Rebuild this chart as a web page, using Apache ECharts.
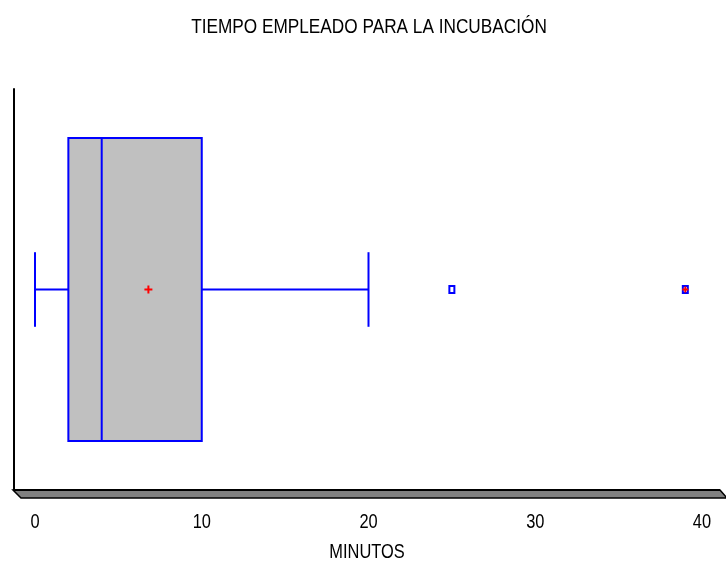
<!DOCTYPE html>
<html>
<head>
<meta charset="utf-8">
<script src="https://cdn.jsdelivr.net/npm/echarts@6/dist/echarts.min.js"></script>
<style>
  html, body { margin: 0; padding: 0; background: #fff; }
  #chart { width: 726px; height: 563px; }
</style>
</head>
<body>
<div id="chart"></div>
<script>
// Five-number summary: lower whisker, Q1, median, Q3, upper whisker (minutes)
var boxStats = [0, 2, 4, 10, 20];
var meanValue = 6.8;
var outliers = [25, 39];
var farOutliers = [39];
var tickValues = [0, 10, 20, 30, 40];
var category = ['MINUTOS'];
var titleText = 'TIEMPO EMPLEADO PARA LA INCUBACIÓN';
var axisTitle = 'MINUTOS';

var FONT = '"Liberation Sans", Arial, sans-serif';
var NARROW = 0.82;   // horizontal squeeze for a condensed look
var BLUE = '#0000ff';

var chart = echarts.init(document.getElementById('chart'));

function plus(cx, cy, r, color) {
  return {
    type: 'group',
    children: [
      { type: 'line', shape: { x1: cx - r, y1: cy, x2: cx + r, y2: cy }, style: { stroke: color, lineWidth: 2 } },
      { type: 'line', shape: { x1: cx, y1: cy - r, x2: cx, y2: cy + r }, style: { stroke: color, lineWidth: 2 } }
    ]
  };
}

function narrowText(str, x, y, size) {
  return {
    type: 'text',
    x: x, y: y,
    scaleX: NARROW,
    style: {
      text: str,
      fill: '#000',
      font: size + 'px ' + FONT,
      align: 'center',
      verticalAlign: 'middle'
    }
  };
}

function renderBox(params, api) {
  var cs = params.coordSys;
  var band = api.size([0, 1])[1];
  var cy = api.coord([0, 0])[1];
  var boxHalf = band * 0.378;
  var capHalf = band * 0.093;
  var px = boxStats.map(function (v) { return api.coord([v, 0])[0]; });
  var children = [];

  // shaded floor under the plot area
  var fy = cs.y + cs.height;
  children.push({
    type: 'polygon',
    shape: { points: [[cs.x - 1, fy], [cs.x + cs.width, fy], [cs.x + cs.width + 7, fy + 8], [cs.x + 7, fy + 8]] },
    style: { fill: '#808080', stroke: '#000', lineWidth: 1.5 }
  });
  children.push({
    type: 'line',
    shape: { x1: cs.x - 1, y1: fy, x2: cs.x + cs.width, y2: fy },
    style: { stroke: '#000', lineWidth: 2 }
  });

  // tick labels along the floor
  tickValues.forEach(function (v) {
    children.push(narrowText(String(v), api.coord([v, 0])[0], fy + 32, 20));
  });
  // axis title
  children.push(narrowText(axisTitle, cs.x + cs.width / 2, fy + 62, 20));

  // whiskers
  children.push({ type: 'line', shape: { x1: px[0], y1: cy, x2: px[1], y2: cy }, style: { stroke: BLUE, lineWidth: 2 } });
  children.push({ type: 'line', shape: { x1: px[3], y1: cy, x2: px[4], y2: cy }, style: { stroke: BLUE, lineWidth: 2 } });
  children.push({ type: 'line', shape: { x1: px[0], y1: cy - capHalf, x2: px[0], y2: cy + capHalf }, style: { stroke: BLUE, lineWidth: 2 } });
  children.push({ type: 'line', shape: { x1: px[4], y1: cy - capHalf, x2: px[4], y2: cy + capHalf }, style: { stroke: BLUE, lineWidth: 2 } });

  // box and median
  children.push({
    type: 'rect',
    shape: { x: px[1], y: cy - boxHalf, width: px[3] - px[1], height: boxHalf * 2 },
    style: { fill: '#c0c0c0', stroke: BLUE, lineWidth: 2 }
  });
  children.push({ type: 'line', shape: { x1: px[2], y1: cy - boxHalf, x2: px[2], y2: cy + boxHalf }, style: { stroke: BLUE, lineWidth: 2 } });

  // mean
  var mx = api.coord([meanValue, 0])[0];
  children.push(plus(mx, cy, 4, '#ff0000'));

  // outliers
  outliers.forEach(function (v) {
    var ox = api.coord([v, 0])[0];
    children.push({
      type: 'rect',
      shape: { x: ox - 2.5, y: cy - 3.5, width: 5, height: 7 },
      style: { fill: '#fff', stroke: BLUE, lineWidth: 2 }
    });
  });
  farOutliers.forEach(function (v) {
    var ox = api.coord([v, 0])[0];
    children.push(plus(ox, cy, 3, '#ff0000'));
  });

  return { type: 'group', children: children };
}

chart.setOption({
  animation: false,
  backgroundColor: '#fff',
  graphic: [{
    type: 'text',
    x: 369, y: 27,
    scaleX: NARROW,
    style: {
      text: titleText,
      fill: '#000',
      font: '21px ' + FONT,
      align: 'center',
      verticalAlign: 'middle'
    }
  }],
  grid: { left: 14, right: 6, top: 89, bottom: 73, containLabel: false },
  xAxis: {
    type: 'value',
    min: -1.26,
    max: 41.08,
    axisLine: { show: false },
    axisTick: { show: false },
    splitLine: { show: false },
    axisLabel: { show: false }
  },
  yAxis: {
    type: 'category',
    data: category,
    axisLine: { show: true, onZero: false, lineStyle: { color: '#000', width: 2 } },
    axisTick: { show: false },
    axisLabel: { show: false },
    splitLine: { show: false }
  },
  series: [{
    type: 'custom',
    renderItem: renderBox,
    data: [[boxStats[2], 0]],
    clip: false,
    silent: true
  }]
});
</script>
</body>
</html>
